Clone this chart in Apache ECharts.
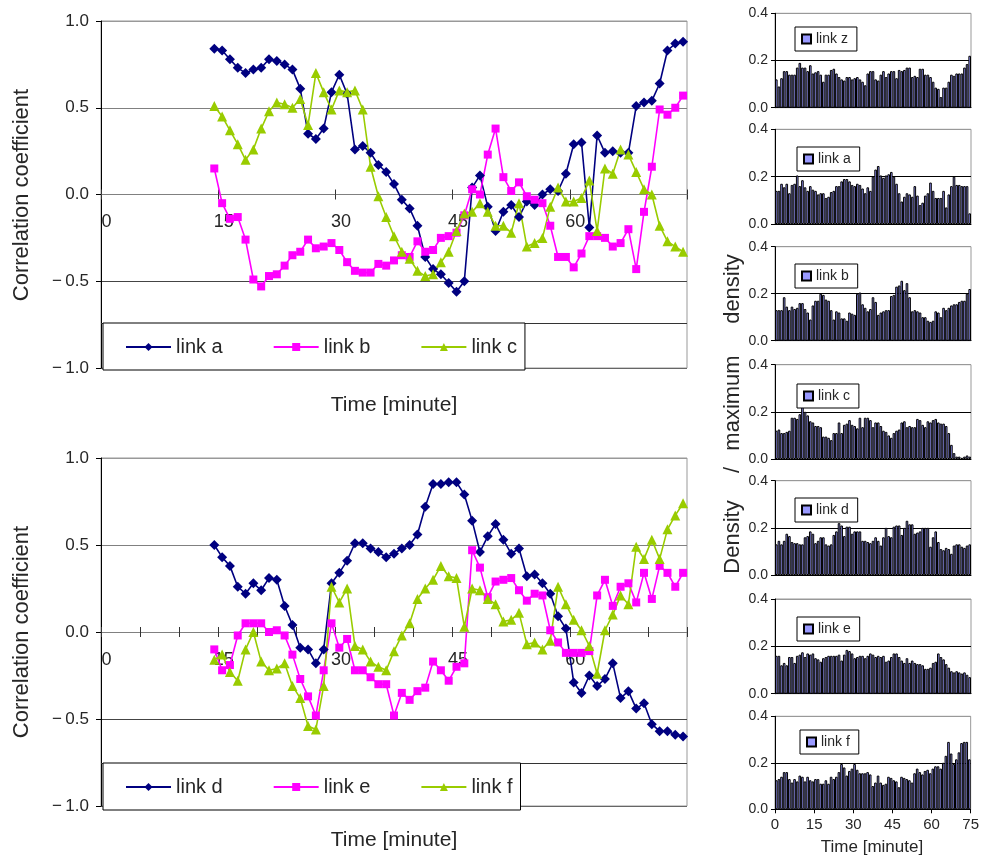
<!DOCTYPE html>
<html>
<head>
<meta charset="utf-8">
<script src="https://cdn.jsdelivr.net/npm/echarts@6/dist/echarts.min.js"></script>
<style>
  html, body { margin: 0; padding: 0; background: #fff; }
  #chart { width: 982px; height: 858px; }
</style>
</head>
<body>
<div id="chart"></div>
<script>
// ---- correlation coefficients, one value per minute from minute 15 to 75 ----
const linkA = [0.84,0.83,0.78,0.73,0.70,0.72,0.73,0.78,0.77,0.75,0.72,0.61,0.35,0.32,0.38,0.59,0.69,0.58,0.26,0.28,0.24,0.17,0.13,0.06,-0.03,-0.08,-0.18,-0.36,-0.43,-0.46,-0.51,-0.56,-0.50,0.04,0.11,-0.07,-0.21,-0.10,-0.06,-0.13,-0.04,-0.06,0.00,0.03,0.02,0.12,0.29,0.30,-0.19,0.34,0.24,0.25,0.24,0.24,0.51,0.53,0.54,0.64,0.83,0.87,0.88];
const linkB = [0.15,-0.05,-0.14,-0.13,-0.26,-0.49,-0.53,-0.47,-0.46,-0.41,-0.35,-0.33,-0.26,-0.31,-0.30,-0.28,-0.32,-0.39,-0.44,-0.45,-0.45,-0.40,-0.41,-0.38,-0.35,-0.36,-0.27,-0.33,-0.32,-0.25,-0.24,-0.22,-0.12,0.03,0.00,0.23,0.38,0.10,0.02,0.07,-0.01,-0.03,-0.05,-0.18,-0.36,-0.36,-0.42,-0.34,-0.24,-0.24,-0.25,-0.30,-0.28,-0.20,-0.43,-0.10,0.16,0.49,0.46,0.50,0.57];
const linkC = [0.51,0.45,0.37,0.29,0.20,0.26,0.38,0.48,0.53,0.52,0.50,0.55,0.40,0.70,0.59,0.49,0.60,0.59,0.60,0.49,0.16,-0.01,-0.13,-0.24,-0.33,-0.37,-0.44,-0.47,-0.46,-0.39,-0.33,-0.21,-0.11,-0.10,-0.05,-0.10,-0.18,-0.18,-0.22,-0.05,-0.30,-0.28,-0.25,-0.07,0.04,-0.04,-0.04,-0.02,0.08,-0.21,0.15,0.12,0.26,0.23,0.13,0.03,0.00,-0.18,-0.27,-0.30,-0.33];
const linkD = [0.50,0.43,0.38,0.26,0.22,0.28,0.24,0.31,0.30,0.15,0.04,-0.09,-0.10,-0.18,-0.10,0.28,0.34,0.41,0.51,0.51,0.48,0.46,0.43,0.45,0.48,0.50,0.56,0.72,0.85,0.85,0.86,0.86,0.79,0.64,0.46,0.55,0.62,0.53,0.45,0.48,0.32,0.33,0.28,0.22,0.09,0.02,-0.29,-0.35,-0.25,-0.31,-0.27,-0.18,-0.38,-0.34,-0.44,-0.41,-0.53,-0.57,-0.57,-0.59,-0.60];
const linkE = [-0.10,-0.22,-0.19,-0.02,0.05,0.05,0.05,0.00,0.01,-0.02,-0.13,-0.27,-0.37,-0.48,-0.22,0.05,-0.09,-0.04,-0.22,-0.22,-0.26,-0.30,-0.30,-0.48,-0.35,-0.39,-0.34,-0.32,-0.17,-0.22,-0.28,-0.20,-0.18,0.47,0.37,0.20,0.29,0.30,0.31,0.24,0.18,0.22,0.21,0.01,-0.06,-0.12,-0.12,-0.12,-0.11,0.21,0.30,0.15,0.26,0.28,0.17,0.34,0.19,0.38,0.34,0.26,0.34];
const linkF = [-0.16,-0.13,-0.23,-0.28,-0.10,0.00,-0.17,-0.22,-0.21,-0.18,-0.31,-0.38,-0.54,-0.56,-0.31,0.26,0.17,0.25,-0.08,-0.10,-0.17,-0.20,-0.22,-0.11,-0.02,0.05,0.19,0.25,0.30,0.38,0.32,0.31,0.03,0.25,0.24,0.19,0.16,0.06,0.07,0.11,-0.07,-0.06,-0.10,-0.05,0.26,0.16,0.07,0.01,-0.08,-0.24,0.01,0.10,0.21,0.16,0.49,0.42,0.53,0.42,0.59,0.67,0.74];

// ---- density / maximum density, one bar per minute from 0 to 75 ----
const densZ = [0.12,0.09,0.125,0.155,0.155,0.14,0.14,0.14,0.17,0.19,0.17,0.17,0.155,0.18,0.145,0.15,0.155,0.14,0.11,0.14,0.14,0.16,0.165,0.145,0.13,0.12,0.115,0.13,0.13,0.12,0.125,0.13,0.12,0.11,0.095,0.145,0.155,0.155,0.12,0.115,0.14,0.155,0.13,0.145,0.155,0.155,0.125,0.16,0.155,0.16,0.17,0.17,0.13,0.135,0.13,0.165,0.165,0.14,0.14,0.13,0.11,0.085,0.08,0.045,0.085,0.085,0.11,0.14,0.135,0.145,0.145,0.145,0.17,0.185,0.22];
const densA = [0.14,0.14,0.17,0.155,0.17,0.13,0.165,0.17,0.205,0.16,0.185,0.155,0.14,0.16,0.145,0.14,0.125,0.13,0.13,0.11,0.115,0.135,0.14,0.16,0.16,0.18,0.19,0.19,0.18,0.165,0.16,0.17,0.165,0.15,0.13,0.155,0.14,0.2,0.23,0.245,0.205,0.195,0.205,0.21,0.22,0.2,0.17,0.13,0.095,0.115,0.13,0.125,0.115,0.16,0.12,0.08,0.09,0.12,0.13,0.175,0.14,0.11,0.11,0.11,0.14,0.07,0.125,0.16,0.2,0.165,0.165,0.16,0.16,0.16,0.045];
const densB = [0.13,0.13,0.13,0.185,0.145,0.13,0.145,0.135,0.14,0.16,0.16,0.135,0.12,0.09,0.15,0.17,0.17,0.2,0.195,0.175,0.17,0.13,0.09,0.125,0.12,0.095,0.095,0.085,0.12,0.115,0.11,0.2,0.205,0.155,0.14,0.125,0.135,0.185,0.165,0.11,0.12,0.125,0.13,0.13,0.19,0.195,0.23,0.235,0.255,0.215,0.245,0.185,0.125,0.13,0.125,0.12,0.1,0.1,0.085,0.08,0.085,0.125,0.12,0.1,0.14,0.13,0.14,0.15,0.155,0.155,0.165,0.17,0.17,0.2,0.22];
const densC = [0.12,0.125,0.11,0.11,0.115,0.12,0.175,0.175,0.17,0.19,0.225,0.2,0.185,0.16,0.155,0.14,0.14,0.135,0.095,0.095,0.09,0.08,0.11,0.11,0.155,0.11,0.145,0.15,0.165,0.145,0.14,0.13,0.175,0.135,0.175,0.175,0.165,0.135,0.155,0.155,0.14,0.12,0.115,0.1,0.09,0.11,0.12,0.125,0.155,0.16,0.135,0.14,0.135,0.135,0.17,0.165,0.145,0.135,0.16,0.155,0.165,0.17,0.155,0.15,0.15,0.14,0.11,0.06,0.025,0.01,0.01,0.005,0.01,0.015,0.01];
const densD = [0.13,0.145,0.13,0.145,0.175,0.165,0.14,0.135,0.135,0.13,0.13,0.16,0.165,0.185,0.175,0.135,0.145,0.16,0.16,0.13,0.125,0.13,0.17,0.185,0.22,0.21,0.165,0.205,0.205,0.175,0.185,0.185,0.185,0.145,0.145,0.14,0.135,0.145,0.16,0.145,0.125,0.16,0.2,0.165,0.16,0.205,0.21,0.21,0.17,0.2,0.23,0.215,0.215,0.175,0.18,0.185,0.2,0.2,0.2,0.12,0.16,0.185,0.14,0.11,0.105,0.115,0.11,0.09,0.125,0.13,0.13,0.12,0.115,0.125,0.13];
const densE = [0.16,0.16,0.12,0.13,0.12,0.155,0.155,0.13,0.16,0.165,0.175,0.155,0.17,0.165,0.17,0.15,0.145,0.135,0.15,0.155,0.16,0.16,0.16,0.16,0.165,0.14,0.165,0.185,0.18,0.17,0.15,0.155,0.16,0.16,0.15,0.16,0.17,0.165,0.155,0.16,0.155,0.16,0.135,0.14,0.155,0.17,0.17,0.155,0.14,0.13,0.15,0.13,0.14,0.13,0.125,0.125,0.12,0.105,0.105,0.11,0.13,0.135,0.17,0.155,0.145,0.125,0.11,0.095,0.09,0.095,0.09,0.085,0.09,0.08,0.07];
const densF = [0.125,0.13,0.14,0.16,0.16,0.13,0.115,0.13,0.12,0.145,0.14,0.12,0.14,0.125,0.12,0.13,0.13,0.11,0.11,0.125,0.11,0.14,0.13,0.14,0.16,0.195,0.18,0.145,0.165,0.175,0.195,0.17,0.155,0.155,0.155,0.16,0.15,0.1,0.115,0.145,0.115,0.105,0.11,0.14,0.135,0.125,0.12,0.095,0.14,0.135,0.13,0.125,0.115,0.155,0.175,0.16,0.15,0.165,0.17,0.155,0.175,0.185,0.185,0.175,0.2,0.23,0.29,0.24,0.195,0.215,0.245,0.285,0.29,0.29,0.215];

// ---- axis ticks ----
const corrTicks = [-1.0, -0.5, 0.0, 0.5, 1.0];
const timeLabels = [0, 15, 30, 45, 60];
const densTicks = [0.0, 0.2, 0.4];

const FONT = '"Liberation Sans", Arial, sans-serif';
const TEXT = '#262626';
const NAVY = '#000080', MAGENTA = '#FF00FF', LIME = '#99CC00', LAVENDER = '#9999FF';

// line points sit at the centre of each one-minute bin
const lineX = linkA.map((_, i) => 14.5 + i);
const linePairs = vals => vals.map((v, i) => [lineX[i], v]);
const barPairs = vals => vals.map((v, i) => [i + 0.5, v]);
const signed = v => (v < 0 ? '\u2212\u2009' + Math.abs(v).toFixed(1) : v.toFixed(1));

const grids = [];
const xAxes = [];
const yAxes = [];
const series = [];
const legends = [];
const graphics = [];

// ---------- the two correlation panels ----------
const corrPanels = [
  { top: 21, height: 347, tickStep: 15, names: ['link a', 'link b', 'link c'], data: [linkA, linkB, linkC], legendTop: 323 },
  { top: 458, height: 348, tickStep: 5, names: ['link d', 'link e', 'link f'], data: [linkD, linkE, linkF], legendTop: 763 }
];
const lineStyles = [
  { color: NAVY, symbol: 'diamond', size: 10 },
  { color: MAGENTA, symbol: 'rect', size: 8 },
  { color: LIME, symbol: 'triangle', size: 10 }
];

corrPanels.forEach((p, k) => {
  const g = grids.length;
  grids.push({ left: 101, top: p.top, width: 586, height: p.height, show: true, borderColor: '#999', borderWidth: 1, backgroundColor: 'transparent' });
  // the time axis crosses the value axis at 0, half way down the symmetric -1..1 range
  const xBase = {
    gridIndex: g, type: 'value', min: 0, max: 75, interval: p.tickStep,
    position: 'bottom', offset: -p.height / 2,
    axisLine: { onZero: false, lineStyle: { color: '#808080', width: 1 } },
    splitLine: { show: false }
  };
  xAxes.push(Object.assign({}, xBase, {
    axisTick: { show: true, inside: false, length: 5, lineStyle: { color: '#333' } },
    axisLabel: {
      show: true, margin: 19, fontSize: 18, color: TEXT, fontFamily: FONT,
      padding: [0, 0, 0, 11],
      formatter: v => (timeLabels.indexOf(v) >= 0 ? String(v) : '')
    }
  }));
  xAxes.push(Object.assign({}, xBase, {
    axisTick: { show: true, inside: true, length: 5, lineStyle: { color: '#333' } },
    axisLabel: { show: false }
  }));
  yAxes.push({
    gridIndex: g, type: 'value', min: corrTicks[0], max: corrTicks[corrTicks.length - 1], interval: 0.5,
    axisLine: { show: true, onZero: false, lineStyle: { color: '#000', width: 1 } },
    axisTick: { show: true, inside: false, length: 5, lineStyle: { color: '#000' } },
    axisLabel: { margin: 12, fontSize: 17, color: TEXT, fontFamily: FONT, formatter: signed },
    splitLine: { show: true, lineStyle: { color: ['#666', '#444', '#808080', '#808080', '#999'], width: 1 } }
  });
  p.names.forEach((name, j) => {
    const st = lineStyles[j];
    series.push({
      type: 'line', name, xAxisIndex: 2 * k, yAxisIndex: k,
      data: linePairs(p.data[j]),
      symbol: st.symbol, symbolSize: st.size,
      lineStyle: { color: st.color, width: 1.6 },
      itemStyle: { color: st.color },
      animation: false, silent: true
    });
  });
  // rule along the top edge of the legend band
  graphics.push({
    type: 'line', z: 1,
    shape: { x1: 101, y1: p.legendTop + 0.5, x2: 687, y2: p.legendTop + 0.5 },
    style: { stroke: '#333', lineWidth: 1 }
  });
  legends.push({
    data: p.names, left: 103, top: p.legendTop, orient: 'horizontal',
    itemWidth: 45, itemHeight: 10, itemGap: 50,
    padding: [14, 8, 13, 22],
    borderColor: '#000', borderWidth: 1, backgroundColor: '#fff',
    textStyle: { fontSize: 20, color: TEXT, fontFamily: FONT },
    selectedMode: false
  });
});

// ---------- the seven density panels ----------
const densPanels = [
  { label: 'link z', vals: densZ, top: 13.3, height: 94.4, legendLeft: 795, legendTop: 27 },
  { label: 'link a', vals: densA, top: 129.3, height: 94.7, legendLeft: 797, legendTop: 147 },
  { label: 'link b', vals: densB, top: 246.7, height: 94.0, legendLeft: 795, legendTop: 264 },
  { label: 'link c', vals: densC, top: 364.7, height: 94.3, legendLeft: 797, legendTop: 384 },
  { label: 'link d', vals: densD, top: 480.7, height: 94.3, legendLeft: 795, legendTop: 498 },
  { label: 'link e', vals: densE, top: 599.0, height: 94.7, legendLeft: 797, legendTop: 617 },
  { label: 'link f', vals: densF, top: 716.3, height: 93.0, legendLeft: 800, legendTop: 730 }
];
const barGridLeft = 775, barGridWidth = 196;
const barW = barGridWidth / 75;

densPanels.forEach((p, k) => {
  const g = grids.length;
  const last = k === densPanels.length - 1;
  grids.push({ left: barGridLeft, top: p.top, width: barGridWidth, height: p.height, show: true, borderColor: '#999', borderWidth: 1, backgroundColor: 'transparent' });
  const xi = xAxes.length;
  xAxes.push({
    gridIndex: g, type: 'value', min: 0, max: 75, interval: 15,
    axisLine: { onZero: false, lineStyle: { color: '#000', width: 1 } },
    axisTick: { show: last, inside: false, length: 4, lineStyle: { color: '#000' } },
    axisLabel: { show: last, margin: 8, fontSize: 15, color: TEXT, fontFamily: FONT },
    splitLine: { show: false }
  });
  const yi = yAxes.length;
  yAxes.push({
    gridIndex: g, type: 'value', min: densTicks[0], max: densTicks[densTicks.length - 1], interval: 0.2,
    axisLine: { show: true, onZero: false, lineStyle: { color: '#000', width: 1 } },
    axisTick: { show: true, inside: false, length: 4, lineStyle: { color: '#000' } },
    axisLabel: { margin: 7, fontSize: 14, color: TEXT, fontFamily: FONT, formatter: v => v.toFixed(1) },
    splitLine: { show: true, lineStyle: { color: ['#000', '#000', '#999'], width: 1 } }
  });
  const sname = p.label + ' (density)';
  series.push({
    type: 'bar', name: sname, xAxisIndex: xi, yAxisIndex: yi,
    data: barPairs(p.vals), barWidth: barW,
    itemStyle: { color: LAVENDER, borderColor: '#000', borderWidth: 1 },
    animation: false, silent: true
  });
  legends.push({
    data: [sname], left: p.legendLeft, top: p.legendTop, orient: 'horizontal',
    icon: 'rect', itemWidth: 9, itemHeight: 9,
    padding: [5, 9, 5, 6],
    borderColor: '#000', borderWidth: 1, backgroundColor: '#fff',
    textStyle: { fontSize: 14, color: TEXT, fontFamily: FONT },
    formatter: n => n.split(' (')[0],
    selectedMode: false
  });
});

// ---------- free-standing titles ----------
const vText = (text, x, y, size) => ({
  type: 'text', x, y, rotation: Math.PI / 2,
  style: { text, font: size + 'px ' + FONT, fill: TEXT, align: 'center', verticalAlign: 'middle' }
});
const hText = (text, x, y, size) => ({
  type: 'text', x, y,
  style: { text, font: size + 'px ' + FONT, fill: TEXT, align: 'center', verticalAlign: 'middle' }
});

graphics.push(
  vText('Correlation coefficient', 22, 195, 22),
  vText('Correlation coefficient', 22, 632, 22),
  hText('Time [minute]', 394, 405, 21),
  hText('Time [minute]', 394, 840, 21),
  vText('density', 733, 289, 22),
  vText('maximum', 733, 403, 22),
  vText('/', 733, 470, 22),
  vText('Density', 733, 537, 22),
  hText('Time [minute]', 872, 847, 17)
);

const chart = echarts.init(document.getElementById('chart'), null, { renderer: 'canvas' });
chart.setOption({
  animation: false,
  backgroundColor: '#fff',
  textStyle: { fontFamily: FONT },
  grid: grids,
  xAxis: xAxes,
  yAxis: yAxes,
  legend: legends,
  series,
  graphic: graphics
});
</script>
</body>
</html>
